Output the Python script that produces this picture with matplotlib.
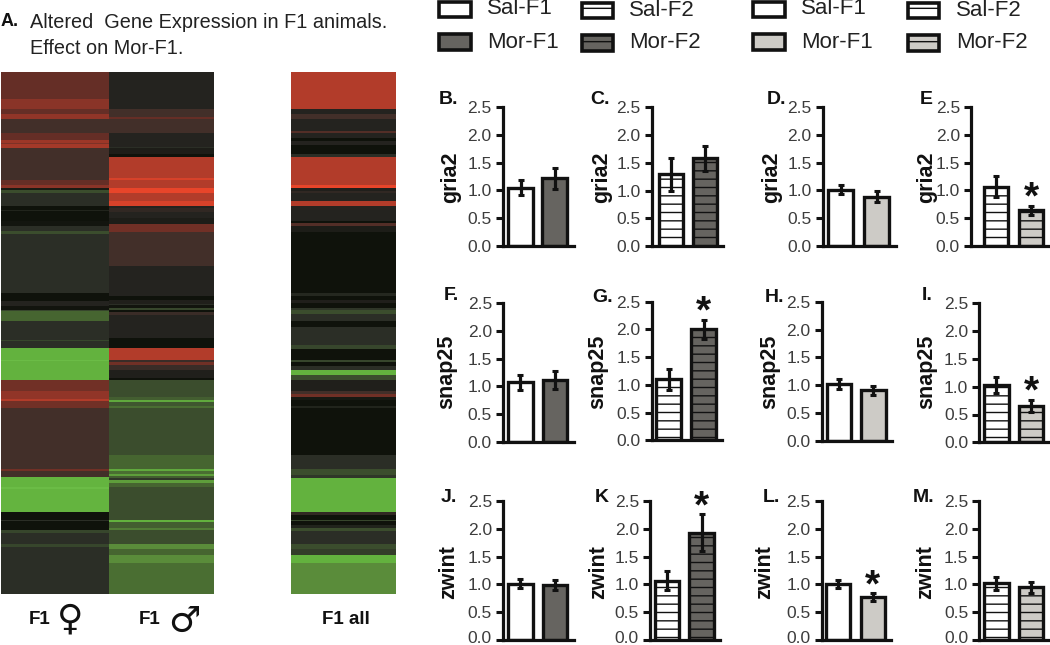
"""Gene expression heatmaps and qPCR bar panels, F1/F2 animals."""

import matplotlib

matplotlib.use("Agg")
import matplotlib.pyplot as plt
import numpy as np
from matplotlib.colors import LinearSegmentedColormap
from matplotlib.patches import Rectangle
from matplotlib.transforms import ScaledTranslation

plt.rcParams["font.family"] = ["Liberation Sans", "DejaVu Sans"]
plt.rcParams["hatch.linewidth"] = 1.0

W, H = 1050, 645

# heatmap bands: last row of each band and its log-ratio style value
FEMALE_ENDS = [120, 150, 163, 178, 220, 243, 250, 255, 265, 362, 378, 387, 392, 402, 440,
               450, 455, 483, 500, 515, 522, 700, 725, 738, 752, 755, 785, 840, 843, 865,
               900, 905, 962, 995, 1018, 1023, 1045, 1228, 1234, 1252, 1282, 1288, 1355,
               1380, 1384, 1410, 1418, 1452, 1460, 1602]
FEMALE_VALUES = [.5, .65, .5, .68, .3, .5, .74, .6, .78, .3, .5, .65, -.05, -.35, -.15,
                 0, -.1, 0, .03, -.15, -.35, -.15, 0, .12, .02, -.3, -.5, -.15, -.3, -.15,
                 -.85, -.95, -.85, .55, .68, .85, .55, .3, .55, .3, -.87, -.95, -.87,
                 0, -.15, 0, -.3, -.15, -.3, -.15]

MALE_ENDS = [150, 172, 178, 220, 262, 266, 285, 293, 357, 363, 387, 402, 425, 440, 445,
             458, 475, 492, 517, 618, 710, 722, 732, 737, 745, 750, 758, 765, 836, 865,
             900, 908, 916, 932, 955, 962, 1012, 1020, 1027, 1040, 1045, 1185, 1228, 1233,
             1242, 1248, 1254, 1260, 1268, 1282, 1380, 1386, 1403, 1410, 1452, 1468, 1485,
             1508, 1602]
MALE_VALUES = [.12, .3, .5, .3, .12, -.15, .08, 0, .85, .95, .85, 1, .85, .95, .12,
               .2, .12, .08, .55, .3, .12, 0, .1, -.15, .02, -.3, 0, .25, .12, 0,
               .85, .25, .55, .25, .1, 0, -.35, -.45, -.8, -.4, -.55, -.35, -.5, -.8,
               -.55, -.75, -.45, -.2, -.75, -.5, -.35, -.85, -.45, -.6, -.35, -.65, -.5,
               -.65, -.55]

ALL_ENDS = [150, 163, 178, 216, 220, 237, 245, 258, 285, 293, 378, 387, 395, 402, 425,
            440, 485, 490, 500, 517, 700, 710, 722, 730, 745, 752, 762, 785, 803, 855,
            868, 900, 908, 920, 932, 945, 962, 995, 1002, 1012, 1020, 1040, 1044, 1185,
            1228, 1245, 1253, 1355, 1365, 1380, 1384, 1395, 1403, 1412, 1452, 1468, 1485,
            1508, 1602]
ALL_VALUES = [.85, .12, .3, .12, .4, .12, 0, .12, 0, -.15, .85, 1, .1, .2, .12,
              .85, .12, 0, .4, .08, 0, -.12, 0, .1, 0, -.2, -.35, -.15, 0, -.15,
              -.3, 0, -.3, 0, -.15, -.85, -.35, .1, .3, .55, .05, 0, -.1, 0,
              -.15, -.35, -.2, -.85, .2, 0, -.3, 0, -.1, -.35, -.15, -.35, -.25,
              -.85, -.65]

# bar panels, in letter order B..M
PANEL_LETTERS = ["B.", "C.", "D.", "E", "F.", "G.", "H.", "I.", "J.", "K", "L.", "M."]
PANEL_GENES = ["gria2"] * 4 + ["snap25"] * 4 + ["zwint"] * 4
SAL_MEANS = [1.05, 1.29, 1.01, 1.07, 1.07, 1.10, 1.02, 1.03, 1.01, 1.07, 1.01, 1.02]
SAL_ERRS = [.13, .30, .08, .19, .14, .19, .09, .14, .08, .17, .07, .12]
MOR_MEANS = [1.22, 1.58, .89, .64, 1.11, 2.00, .91, .65, .99, 1.93, .77, .95]
MOR_ERRS = [.19, .23, .10, .08, .16, .17, .08, .11, .09, .33, .07, .10]
SIGNIFICANT = [False, False, False, True, False, True, False, True, False, True, True, False]
TICKS = [0.0, 0.5, 1.0, 1.5, 2.0, 2.5]

# pixel layout of each panel: left, right, top, bottom, first and second bar centre
PANEL_BOXES = [
    (502.7, 574, 107.3, 245.7, 520.5, 554.5),
    (651.7, 723, 107.3, 246, 671, 705),
    (822.7, 896, 107, 246, 840.5, 876.5),
    (971, 1050, 107, 246, 996, 1031),
    (503, 574, 303.3, 441.7, 520.3, 554.8),
    (651.7, 721.7, 301.7, 440.3, 668.7, 703.7),
    (821.7, 892, 301.7, 440.7, 838.8, 873.3),
    (979.3, 1050, 303.3, 442.3, 996.3, 1031),
    (503, 574, 501, 640, 520.3, 554.8),
    (650, 720, 501, 640, 667.2, 701.7),
    (821.7, 890.7, 501, 640, 837.8, 872.8),
    (979.3, 1050, 501, 640, 996.3, 1031),
]
LETTER_POS = [(448, 99), (600, 99), (776, 100), (926, 100), (451, 295), (603, 297),
              (774, 297), (927, 295), (449, 497), (602, 497), (771, 497), (924, 497)]
GENE_X = [451, 602, 772, 927, 447, 598, 770, 927, 449, 599, 765, 926]
GENE_Y = [177, 177, 177, 177, 372, 372, 372, 372, 572, 572, 572, 572]

DARK = "#666460"
LIGHT = "#cdcbc6"
PANEL_COLORS = [DARK, DARK, LIGHT, LIGHT] * 3
PANEL_HATCHED = [False, True, False, True] * 3

HEAT_CMAP = LinearSegmentedColormap.from_list(
    "redgreen",
    [(0.0, "#6fc24a"), (0.075, "#63b23e"), (0.175, "#5a8c3a"), (0.225, "#4a6e32"),
     (0.325, "#3c4e2e"), (0.425, "#2b2e26"), (0.5, "#0f120b"), (0.56, "#24231f"),
     (0.65, "#42302a"), (0.75, "#642e26"), (0.825, "#8a3428"), (0.925, "#b23c2a"),
     (1.0, "#e8452a")],
)


def px_axes(fig, left, right, top, bottom):
    return fig.add_axes([left / W, 1 - bottom / H, (right - left) / W, (bottom - top) / H])


def draw_heat(fig, left, right, ends, values):
    rows = np.repeat(values, np.diff([35] + ends))[:, None]
    ax = px_axes(fig, left, right, 71.7, 594)
    ax.imshow(rows, cmap=HEAT_CMAP, vmin=-1, vmax=1, aspect="auto", interpolation="nearest")
    ax.axis("off")


def draw_panel(fig, i):
    left, right, top, bottom, c1, c2 = PANEL_BOXES[i]
    ax = px_axes(fig, left, right, top, bottom)
    step = c2 - c1
    ax.set_xlim((left - c1) / step, (right - c1) / step)
    ax.set_ylim(0, 2.5)

    hatch = "--" if PANEL_HATCHED[i] else None
    means = [SAL_MEANS[i], MOR_MEANS[i]]
    errs = [SAL_ERRS[i], MOR_ERRS[i]]
    ax.bar([0, 1], means, width=24.5 / step, color=["white", PANEL_COLORS[i]],
           edgecolor="#111111", linewidth=2.4, hatch=hatch)
    ax.errorbar([0, 1], means, yerr=errs, fmt="none", ecolor="#111111", elinewidth=2.3,
                capsize=2.0, capthick=2.2, clip_on=False)
    if SIGNIFICANT[i]:
        ax.text(1, means[1] + errs[1] + 0.2, "*", fontsize=28, fontweight="bold",
                ha="center", va="center_baseline", clip_on=False, color="#111111")

    for side in ("top", "right"):
        ax.spines[side].set_visible(False)
    for side in ("left", "bottom"):
        ax.spines[side].set_linewidth(2.3)
        ax.spines[side].set_color("#111111")
    ax.set_xticks([])
    ax.set_yticks(TICKS)
    ax.set_yticklabels([f"{t:.1f}" for t in TICKS], fontsize=12.5, color="#3c3c3c")
    ax.tick_params(axis="y", length=5, width=2.2, pad=3, color="#111111")
    ax.patch.set_alpha(0)

    # bottom row sits on the image edge, nudge 0.0 up so it stays whole
    if i >= 8:
        label = ax.get_yticklabels()[0]
        label.set_transform(label.get_transform() + ScaledTranslation(0, 2.2 / 72, fig.dpi_scale_trans))


def draw_swatch(ov, x0, x1, y0, y1, color, hatch=None):
    ov.add_patch(Rectangle((x0, y0), x1 - x0, y1 - y0, facecolor=color, edgecolor="#111111",
                           linewidth=2.6, hatch=hatch))


def main():
    fig = plt.figure(figsize=(W / 100, H / 100), dpi=100, facecolor="white")

    draw_heat(fig, 1, 109, FEMALE_ENDS, FEMALE_VALUES)
    draw_heat(fig, 109, 214, MALE_ENDS, MALE_VALUES)
    draw_heat(fig, 291, 396, ALL_ENDS, ALL_VALUES)

    for i in range(len(PANEL_LETTERS)):
        draw_panel(fig, i)

    # everything that sits in figure pixels: legends, captions, panel letters
    ov = fig.add_axes([0, 0, 1, 1], zorder=5)
    ov.set_xlim(0, W)
    ov.set_ylim(H, 0)
    ov.axis("off")

    ov.text(1, 21, "A.", fontsize=13, fontweight="bold", va="center", color="#111111")
    ov.text(30, 23, "Altered  Gene Expression in F1 animals.", fontsize=14.3, va="center",
            color="#222222")
    ov.text(30, 49, "Effect on Mor-F1.", fontsize=14.3, va="center", color="#222222")

    for (lx, sal_x, f2x, f2_text, mor_color) in [(439, 487, 582, 629, DARK), (753, 801, 908, 956, LIGHT)]:
        draw_swatch(ov, lx, lx + 32, 2, 17, "white")
        draw_swatch(ov, lx, lx + 32, 34, 50, mor_color)
        draw_swatch(ov, f2x, f2x + 31, 3, 18, "white", "-")
        draw_swatch(ov, f2x, f2x + 31, 35, 51, mor_color, "-")
        ov.text(sal_x, 9, "Sal-F1", fontsize=16, va="center", color="#222222")
        ov.text(sal_x, 42, "Mor-F1", fontsize=16, va="center", color="#222222")
        ov.text(f2_text, 11, "Sal-F2", fontsize=16, va="center", color="#222222")
        ov.text(f2_text, 43, "Mor-F2", fontsize=16, va="center", color="#222222")

    for letter, (x, y) in zip(PANEL_LETTERS, LETTER_POS):
        ov.text(x, y, letter, fontsize=14, fontweight="bold", ha="center", va="center",
                color="#111111")
    for gene, x, y in zip(PANEL_GENES, GENE_X, GENE_Y):
        ov.text(x, y, gene, fontsize=15.5, fontweight="bold", rotation=90, ha="center", va="center",
                color="#111111")

    ov.text(40, 619, "F1", fontsize=13.5, fontweight="bold", ha="center", va="center", color="#111111")
    ov.text(70, 619, "\u2640", fontsize=26, family="DejaVu Sans", ha="center", va="center", color="#111111")
    ov.text(150, 619, "F1", fontsize=13.5, fontweight="bold", ha="center", va="center", color="#111111")
    ov.text(184, 622, "\u2642", fontsize=26, family="DejaVu Sans", ha="center", va="center", color="#111111")
    ov.text(346, 619, "F1 all", fontsize=13.5, fontweight="bold", ha="center", va="center", color="#111111")

    fig.savefig("out.png", dpi=100)


if __name__ == "__main__":
    main()
